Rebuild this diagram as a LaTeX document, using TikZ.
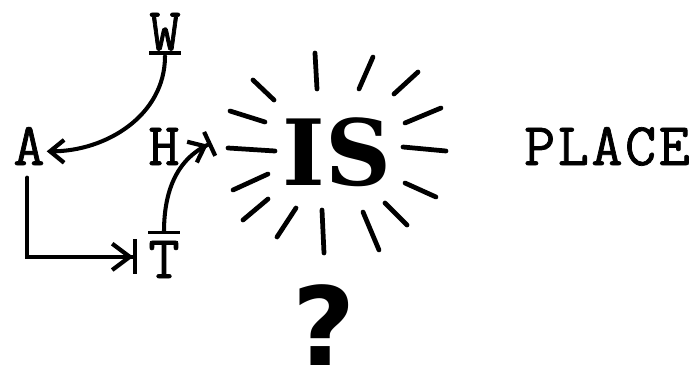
\documentclass[tikz,border=0pt]{standalone}
\usepackage{fontspec}
\usetikzlibrary{arrows.meta}
\newfontfamily\typefont{Latin Modern Mono}[FakeBold=1.2]
\newfontfamily\isfont{DejaVu Serif}
\newfontfamily\quizfont{DejaVu Sans}

\begin{document}
\begin{tikzpicture}[
    x=0.02cm, y=-0.02cm,
    letter/.style={font=\typefont\fontsize{34.5}{40}\selectfont, inner sep=0pt, anchor=base},
    conn/.style={line width=2.3pt, line cap=round},
    ray/.style={line width=2.7pt, line cap=round},
    bar/.style={line width=1.8pt},
  ]
  \useasboundingbox (0,0) rectangle (698,376);

  % letters of the word
  \node[letter] (W) at (165,50) {W};
  \node[letter] (A) at (29,165) {A};
  \node[letter] (H) at (164,165) {H};
  \node[letter] (T) at (164,278) {T};
  \node[letter, font=\typefont\fontsize{34.5}{40}\selectfont\addfontfeature{LetterSpace=4}] (place) at (607,165) {PLACE};

  % marks on W and T
  \draw[bar] ([yshift=-1.2pt]W.south west) -- ([yshift=-1.2pt]W.south east);
  \draw[bar] ([yshift=4.5pt]T.north west) -- ([yshift=4.5pt]T.north east);

  % connectors
  \draw[conn, -{Straight Barb[length=8pt,width=13pt,line width=2.4pt]}]
    ([yshift=-3pt]W.south) to[out=-90, in=0] ([xshift=1pt,yshift=-3pt]A.east);
  \draw[conn, -{Straight Barb[length=10pt,width=15pt,line width=2.4pt,sep=0pt] Bar[width=20pt,line width=2.4pt]}]
    ([xshift=-1pt,yshift=-7pt]A.south) |- ([xshift=-6pt,yshift=1.5pt]T.west);
  \draw[conn, -{Straight Barb[length=8pt,width=13pt,line width=2.4pt,sep=0pt] Bar[width=15pt,line width=2.4pt]}]
    ([yshift=5pt]T.north) to[out=90, in=205] ([xshift=18pt,yshift=2pt]H.east);

  % the burst
  \node[font=\isfont\bfseries\fontsize{52}{60}\selectfont, inner sep=0pt] (IS) at (337,152) {IS};
  \foreach \ax/\ay/\bx/\by in {315/53/317/89, 373/57/359/89, 418/72/394/94,
      441/108/405/123, 403/147/446/151, 405/183/436/197, 385/203/407/225,
      363/212/379/250, 322/210/324/253, 296/208/277/237, 268/199/243/220,
      268/174/233/190, 228/148/275/151, 230/111/265/122, 253/80/274/100}
    \draw[ray] (\ax,\ay) -- (\bx,\by);

  % question mark
  \node[font=\quizfont\bfseries\fontsize{62}{70}\selectfont, inner sep=0pt] (quiz) at (324,325) {?};
\end{tikzpicture}
\end{document}
